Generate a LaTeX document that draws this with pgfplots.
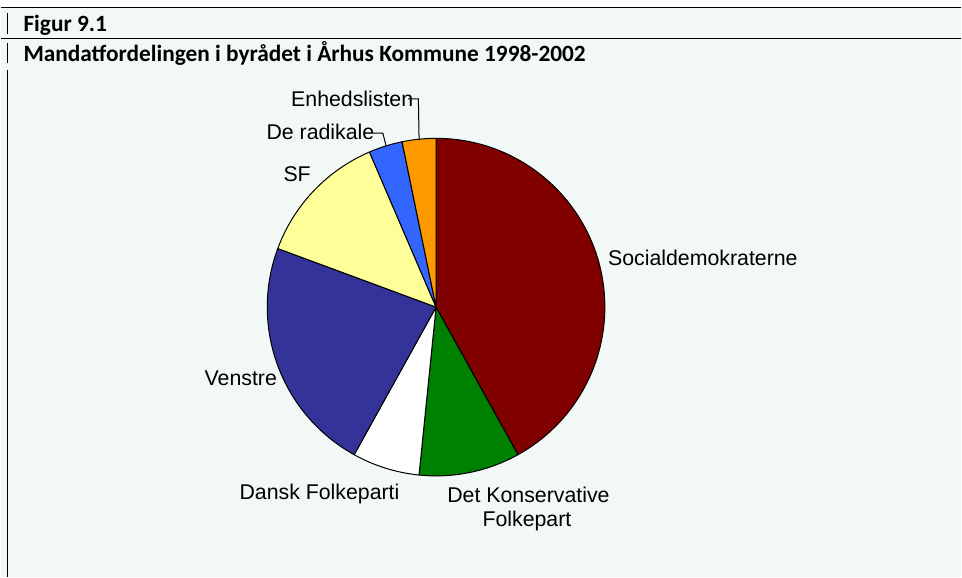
\documentclass[border=0pt]{standalone}
\usepackage{pgfplots}
\pgfplotsset{compat=1.18}
\usepackage{fontspec}
\setmainfont{Liberation Sans}
\newfontfamily\headfont{Carlito}
\definecolor{mint}{RGB}{241,248,246}
\definecolor{socred}{RGB}{128,0,0}
\definecolor{kongreen}{RGB}{0,128,0}
\definecolor{venblue}{RGB}{51,51,153}
\definecolor{sfyellow}{RGB}{255,255,153}
\definecolor{radblue}{RGB}{51,102,255}
\definecolor{enhorange}{RGB}{255,153,0}
\begin{document}
\begin{tikzpicture}[x=0.75pt,y=0.75pt]
% background
\fill[white] (0,0) rectangle (962,578);
\fill[mint] (0,0) rectangle (962,570.3);
% header rules
\draw[line width=0.9pt] (0,570.3) -- (962,570.3);
\draw[line width=0.9pt] (0,539.3) -- (962,539.3);
\draw[line width=0.8pt] (7.3,565.3) -- (7.3,544);
\draw[line width=0.8pt] (7.3,535) -- (7.3,515);
\draw[line width=0.8pt] (7.3,508) -- (7.3,0);
% header texts
\node[anchor=base west,inner sep=0pt,font=\headfont\bfseries\fontsize{17.5}{20}\selectfont] at (22.7,546.3) {Figur 9.1};
\node[anchor=base west,inner sep=0pt,font=\headfont\bfseries\fontsize{17.5}{20}\selectfont] at (22.7,516.3) {Mandatfordelingen i byrådet i Århus Kommune 1998-2002};
% pie
\begin{axis}[at={(327pt,202.875pt)},anchor=center,width=253.5pt,height=253.5pt,
  scale only axis,xmin=-1,xmax=1,ymin=-1,ymax=1,hide axis,clip=false]
\gdef\curang{90}
% seats: Socialdemokraterne 13, Det Konservative Folkeparti 3, Dansk Folkeparti 2,
% Venstre 7, SF 4, De radikale 1, Enhedslisten 1 (total 31)
\foreach \v/\c in {13/socred,3/kongreen,2/white,7/venblue,4/sfyellow,1/radblue,1/enhorange}{
  \pgfmathsetmacro\endang{\curang-\v/31*360}
  \edef\temp{\noexpand\filldraw[fill=\c,draw=black,line width=0.75pt,line join=round]
    (axis cs:0,0) -- ++(\curang:126.75pt) arc[start angle=\curang,end angle=\endang,radius=126.75pt] -- cycle;}
  \temp
  \xdef\curang{\endang}
}
\end{axis}
% labels
\begin{scope}[every node/.style={inner sep=0pt,font=\fontsize{16}{19}\selectfont}]
\node[anchor=base west] at (608,312) {Socialdemokraterne};
\node[anchor=base] at (528.5,75) {Det Konservative};
\node[anchor=base] at (527,51) {Folkepart};
\node[anchor=base west] at (239,78) {Dansk Folkeparti};
\node[anchor=base west] at (204,192) {Venstre};
\node[anchor=base west] at (283,396) {SF};
\node[anchor=base west] at (266,438) {De radikale};
\node[anchor=base west] at (290.7,471.3) {Enhedslisten};
\end{scope}
\draw[line width=0.75pt] (373,444.7) -- (382.7,444.7) -- (386,432);
\draw[line width=0.75pt] (408,479) -- (418.3,479) -- (419,438);
\end{tikzpicture}
\end{document}
